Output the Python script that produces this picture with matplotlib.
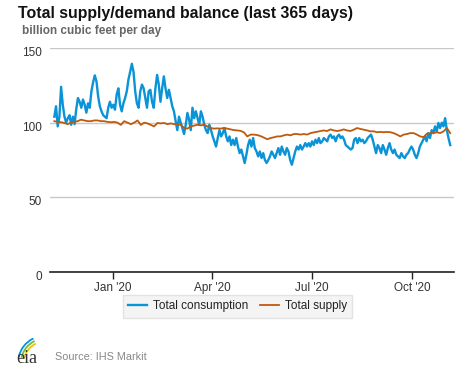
import pandas as pd
import matplotlib
matplotlib.use("Agg")
import matplotlib.pyplot as plt
import matplotlib.transforms as mtransforms
from matplotlib.patches import Arc

# --- data (bcf/d) ---
start_day = "2019-11-08"
end_day = "2020-11-05"

consumption = [
    104, 111, 97.5, 104, 124, 112, 104, 100, 103, 105, 98.6, 104, 99, 109, 116.5, 114,
    110, 115.5, 112, 106.7, 113, 110, 121, 127, 131.7, 127.7, 117.6, 111, 107.6, 105,
    104, 103, 110, 114, 110, 112, 108.7, 118.8, 123, 112, 107.6, 113, 116.5, 121, 129,
    134, 139.4, 134, 121, 113, 110, 121, 125.5, 123, 116.5, 110,
    121, 122, 114, 110, 123, 132, 125.5, 114, 123, 131, 123, 116.5, 122, 116.5, 111,
    107.6, 101, 95, 104, 100, 96.4, 92.4, 98.6, 106.5, 102, 95, 110, 103, 107.6, 103,
    98.6, 107.6, 104, 98.6, 95, 93, 98.6, 95, 90.8, 87.5, 84, 89.7, 95, 90.8, 93, 96.4,
    90.8, 87.5, 90.8, 85, 88.6, 85, 89.7, 84, 79.6, 82, 77.4, 73, 78.5, 85,
    88.6, 84, 89.7, 83, 80.7, 77.4, 80.7, 76.3, 79.6, 75, 73, 75, 77.4, 80.7, 78.5, 76.3,
    79.6, 83, 78.5, 84, 80.7, 78.5, 83, 80.7, 75, 71.8, 76.3, 80.7, 84, 82, 85, 82, 84,
    86.3, 84, 86.3, 84, 87.5, 85, 88.6, 86.3, 89.7, 86.3, 87.5, 89.7, 88.6, 87.5, 90.8,
    92, 89.7, 90.8, 87.5, 90.8, 92, 89.7, 90.8, 88.6, 85, 84, 83,
    82, 83, 88.6, 89.7, 86.3, 89.7, 87.5, 88.6, 86.3, 87.5, 89.7, 90.8, 92, 88.6, 84,
    79.6, 85, 83, 79.6, 85, 82, 78.5, 83, 86.3, 82, 79.6, 82, 78.5, 77.4, 76.3, 79.6,
    77.4, 76.3, 78.5, 79.6, 82, 84, 82, 78.5, 76.3, 79.6, 84, 86.3, 88.6, 90.8, 87.5, 93,
    89.7, 95, 93, 97.5, 94, 99.8, 96.4, 100, 97.5, 103, 95, 89.7, 85,
]

supply = [
    101, 100.5, 100.3, 99.8, 99, 100, 100.5, 101, 102, 101.5, 101, 101, 101.5, 101.5, 101,
    101, 100.5, 100.3, 100.5, 100, 98.5, 101, 100, 99, 100, 101.5, 98.5, 100, 99.5, 98.5,
    97.5, 99.8, 99.5, 99.8, 99, 99.5, 99, 98.8, 98.6, 96.5, 96, 97.5, 98, 98.6, 98.2,
    98.6, 97.5, 96.5, 96, 96.2, 96, 96.5, 96, 95.5, 95, 94.8, 94.5, 93.5, 90.8, 92,
    92, 91.7, 91, 90, 88.9, 89.7, 90.2, 90.8, 90.8, 91.5, 92, 91.5, 92.4, 92.4, 92,
    92.4, 92, 93, 93.5, 93.9, 94.4, 94.8, 94.4, 95.5, 94.8, 94.4, 94.8, 95.5, 94.8, 94.4,
    95.3, 96.4, 95.8, 95.3, 94.8, 94.2, 94.2, 93.6, 93.8, 93.6, 93.8, 93.6, 93, 92, 90.8,
    92, 92.4, 93, 93, 92, 90.8, 90.3, 92.6, 93, 93, 93.6, 93, 94.2, 96.4, 93,
]

month_ticks = ["2020-01-01", "2020-04-01", "2020-07-01", "2020-10-01"]
month_labels = ["Jan '20", "Apr '20", "Jul '20", "Oct '20"]

cons_dates = pd.date_range(start_day, end_day, periods=len(consumption))
supp_dates = pd.date_range(start_day, end_day, periods=len(supply))

plt.rcParams["font.family"] = ["Liberation Sans", "DejaVu Sans"]

fig = plt.figure(figsize=(4.77, 3.67), dpi=100)
ax = fig.add_axes([0.1048, 0.2589, 0.847, 0.6103])

ax.plot(cons_dates, consumption, color="#0a93d6", lw=1.7, label="Total consumption", zorder=3)
ax.plot(supp_dates, supply, color="#bf5a0d", lw=1.3, label="Total supply", zorder=4)

ax.set_ylim(0, 150)
ax.set_yticks([0, 50, 100, 150])
ax.set_xlim(pd.Timestamp("2019-11-04"), pd.Timestamp("2020-11-08 12:00"))
ax.set_xticks(pd.to_datetime(month_ticks))
ax.set_xticklabels(month_labels)

ax.grid(axis="y", color="#c8c8c8", lw=1)
ax.set_axisbelow(True)
for s in ["top", "right", "left"]:
    ax.spines[s].set_visible(False)
ax.spines["bottom"].set_color("#222222")
ax.spines["bottom"].set_linewidth(1.2)
ax.tick_params(axis="y", length=0, labelsize=8.5, labelcolor="#333333", pad=6)
ax.tick_params(axis="x", length=5, width=1, color="#222222", labelsize=8.5,
               labelcolor="#333333", pad=2)
# y labels sit a little below their gridlines
shift = mtransforms.ScaledTranslation(0, -3.5 / 100, fig.dpi_scale_trans)
for lbl in ax.get_yticklabels():
    lbl.set_transform(lbl.get_transform() + shift)

fig.text(0.038, 0.962, "Total supply/demand balance (last 365 days)", fontsize=11.4,
         fontweight="bold", color="#111111", va="center")
fig.text(0.046, 0.916, "billion cubic feet per day", fontsize=8.5, fontweight="bold",
         color="#666666", va="center")

leg = fig.legend(loc="center", bbox_to_anchor=(0.498, 0.165), ncol=2, fontsize=8.5,
                 frameon=True, fancybox=False, handlelength=1.6, handletextpad=0.5,
                 columnspacing=1.0, borderpad=0.45)
leg.get_frame().set_facecolor("#f2f2f2")
leg.get_frame().set_edgecolor("#dddddd")
for t in leg.get_texts():
    t.set_color("#222222")

fig.text(0.116, 0.028, "Source: IHS Markit", fontsize=7.8, color="#888888", va="center")

# eia logo
fig.text(0.034, 0.024, "eia", fontsize=13, family="Liberation Serif", color="#333333",
         va="center")
for r, col in [(0.044, "#f2c500"), (0.050, "#7ab648"), (0.056, "#0096d7")]:
    fig.add_artist(Arc((0.094, 0.012), 2 * r, 2 * r * 477 / 367, theta1=110, theta2=165,
                       transform=fig.transFigure, color=col, lw=1.3))

fig.savefig("out.png", dpi=100)
